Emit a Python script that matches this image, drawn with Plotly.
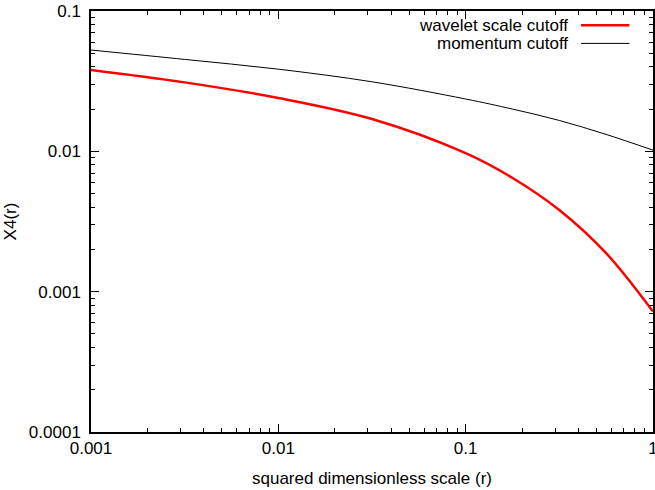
import plotly.graph_objects as go

# data
r_vals = [0.001, 0.00316, 0.01, 0.0316, 0.1, 0.178, 0.316, 0.562, 1.0]
x4_black = [0.0527, 0.0452, 0.0385, 0.0313, 0.0236, 0.0200, 0.0166, 0.0132, 0.0102]
x4_red = [0.0380, 0.0310, 0.0240, 0.0170, 0.00971, 0.00646, 0.00382, 0.00188, 0.000721]

x_tickvals = [0.001, 0.01, 0.1, 1]
x_ticktext = ["0.001", "0.01", "0.1", "1"]
y_tickvals = [0.0001, 0.001, 0.01, 0.1]
y_ticktext = ["0.0001", "0.001", "0.01", "0.1"]

names = ["wavelet scale cutoff", "momentum cutoff"]

FONT = "Liberation Sans, Arial, sans-serif"

fig = go.Figure()
fig.add_trace(go.Scatter(x=r_vals, y=x4_red, mode="lines", name=names[0],
                         line=dict(color="#ff0000", width=2.5, shape="spline", smoothing=1.0),
                         showlegend=False))
fig.add_trace(go.Scatter(x=r_vals, y=x4_black, mode="lines", name=names[1],
                         line=dict(color="#000000", width=1, shape="spline", smoothing=1.0),
                         showlegend=False))

axis_common = dict(
    type="log", showgrid=False, zeroline=False,
    showline=True, linecolor="black", linewidth=1.5, mirror="allticks",
    ticks="inside", ticklen=8, tickcolor="black", tickwidth=1,
    minor=dict(ticks="inside", ticklen=4, tickcolor="black", tickwidth=1, dtick="D1", showgrid=False),
    tickfont=dict(family=FONT, size=17, color="black"),
    ticklabeloverflow="allow",
)

fig.update_xaxes(range=[-3, 0], tickvals=x_tickvals, ticktext=x_ticktext,
                 title=dict(text="squared dimensionless scale (r)", font=dict(family=FONT, size=17, color="black"), standoff=15),
                 **axis_common)
fig.update_yaxes(range=[-4, -1], tickvals=y_tickvals, ticktext=y_ticktext, ticklabelstandoff=5,
                 title=dict(text="X4(r)", font=dict(family=FONT, size=17, color="black"), standoff=8),
                 **axis_common)

# legend drawn gnuplot-style: text right-aligned, sample line to its right
legend_y = [0.966, 0.923]
legend_colors = ["#ff0000", "#000000"]
legend_widths = [2.5, 1]
for nm, yy, c, w in zip(names, legend_y, legend_colors, legend_widths):
    fig.add_annotation(x=0.852, y=yy, xref="paper", yref="paper", text=nm, showarrow=False,
                       xanchor="right", yanchor="middle", font=dict(family=FONT, size=17, color="black"))
    fig.add_shape(type="line", xref="paper", yref="paper", x0=0.872, x1=0.958, y0=yy, y1=yy,
                  line=dict(color=c, width=w))

fig.update_layout(
    width=655, height=490,
    margin=dict(l=91, r=2, t=11, b=58, autoexpand=False),
    paper_bgcolor="white", plot_bgcolor="white",
    font=dict(family=FONT, size=17, color="black"),
)

fig.write_html("out.html", config={"displayModeBar": False},
               post_script="document.body.style.margin='0';document.body.style.overflow='hidden';")
